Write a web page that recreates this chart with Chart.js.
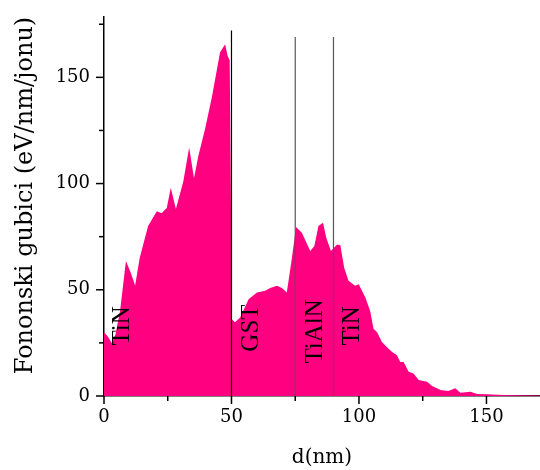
<!DOCTYPE html>
<html>
<head>
<meta charset="utf-8">
<script src="https://cdn.jsdelivr.net/npm/chart.js@4"></script>
<style>
  html, body { margin: 0; padding: 0; background: #fff; }
  #wrap { width: 540px; height: 470px; }
</style>
</head>
<body>
<div id="wrap"><canvas id="ChartCanvas"></canvas></div>
<script>
// depth (nm) and phonon losses (eV/nm/ion)
var depthNm = [0, 1.5, 3, 4.5, 6.3, 8.6, 10.5, 12.2, 14, 17.3, 20.7, 22.6, 24.6, 26.2, 28.2, 31.1,
    33.4, 35.3, 37, 39.7, 42.3, 45.5, 47.5, 48.5, 49.3, 50.2, 51.4, 53.4, 56.7, 60, 63.2, 65.2,
    67.8, 69.8, 71.7, 73.7, 75.3, 77.6, 80.9, 82.5, 84.1, 85.9, 87.2, 89, 91.4, 92.7, 94.2, 95.9,
    98.5, 99.9, 102.5, 104.4, 105.7, 107.1, 109, 111, 113, 114.9, 116.2, 117.5, 119.5, 121.4,
    123.4, 126.7, 128.7, 132, 135, 137.8, 139.8, 143.7, 146.3, 150, 156.8, 163, 171];
var phononLoss = [30, 28, 25, 29, 40, 63.5, 58, 52, 65, 80, 87, 86, 88.5, 98, 88, 101,
    117, 102.5, 113, 126, 140.6, 161.7, 165.6, 160, 158, 36, 34.7, 37, 45.6, 48.7, 49.5, 50.8,
    51.9, 50.8, 48.7, 65, 79.5, 76.8, 68.2, 70.6, 80, 81.5, 74.4, 68.2, 71.3, 71, 60.4, 54.2,
    51.9, 52.6, 46.4, 40, 31.6, 30, 25.4, 23, 20.7, 19.2, 16, 16, 11.4, 10.6,
    7.5, 6.7, 4.7, 2.8, 2.3, 3.6, 1.5, 2, 0.9, 0.8, 0.5, 0.3, 0.2];

// layer boundaries (nm) and the height each marker line reaches
var boundaryNm = [50, 75, 90];
var boundaryTop = [172, 169, 169];

// layer names and where they sit (nm, eV/nm/ion)
var layerNames = ["TiN", "GST", "TiAlN", "TiN"];
var layerX = [7.1, 57.7, 83.0, 97.4];
var layerY = [33, 32, 30.4, 33];

var xTicksMajor = [0, 50, 100, 150];
var xTicksMinor = [25, 75, 125];
var yTicksMajor = [0, 50, 100, 150];
var yTicksMinor = [25, 75, 125, 175];

var areaPoints = [];
for (var i = 0; i < depthNm.length; i++) {
    areaPoints.push({ x: depthNm[i], y: phononLoss[i] });
}

var datasets = [];
for (var b = 0; b < boundaryNm.length; b++) {
    datasets.push({
        type: 'line',
        data: [{ x: boundaryNm[b], y: 0 }, { x: boundaryNm[b], y: boundaryTop[b] }],
        borderColor: b == 0 ? '#000000' : '#555555',
        borderWidth: 1.2,
        pointRadius: 0,
        fill: false,
        order: 0
    });
}
datasets.push({
    type: 'line',
    data: areaPoints,
    borderWidth: 0,
    borderColor: 'rgb(255, 0, 128)',
    backgroundColor: 'rgb(255, 0, 128)',
    pointRadius: 0,
    fill: 'origin',
    tension: 0,
    order: 10
});

var axisFont = { family: 'DejaVu Serif', size: 18 };

// tick marks drawn by hand so minor ticks can be shorter
var ticksPlugin = {
    id: 'ticksPlugin',
    afterDraw: function(chart) {
        var ctx = chart.ctx;
        var xs = chart.scales.x, ys = chart.scales.y;
        var area = chart.chartArea;
        ctx.save();
        ctx.strokeStyle = '#000';
        ctx.lineWidth = 1.5;
        function xt(v, len) {
            var px = xs.getPixelForValue(v);
            ctx.beginPath(); ctx.moveTo(px, area.bottom); ctx.lineTo(px, area.bottom + len); ctx.stroke();
        }
        function yt(v, len) {
            var py = ys.getPixelForValue(v);
            ctx.beginPath(); ctx.moveTo(area.left, py); ctx.lineTo(area.left - len, py); ctx.stroke();
        }
        xTicksMajor.forEach(function(v) { xt(v, 8); });
        xTicksMinor.forEach(function(v) { xt(v, 5); });
        yTicksMajor.forEach(function(v) { yt(v, 8); });
        yTicksMinor.forEach(function(v) { yt(v, 5); });

        // layer names, rotated
        ctx.fillStyle = '#000';
        ctx.font = '25px "Liberation Serif"';
        ctx.textAlign = 'center';
        ctx.textBaseline = 'middle';
        for (var k = 0; k < layerNames.length; k++) {
            ctx.save();
            ctx.translate(xs.getPixelForValue(layerX[k]), ys.getPixelForValue(layerY[k]));
            ctx.rotate(-Math.PI / 2);
            ctx.fillText(layerNames[k], 0, 0);
            ctx.restore();
        }
        ctx.restore();
    }
};

var config = {
    type: 'line',
    data: { datasets: datasets },
    options: {
        responsive: true,
        maintainAspectRatio: false,
        animation: false,
        layout: { padding: { top: 14, right: 0, left: 0, bottom: 0 } },
        plugins: { legend: { display: false }, tooltip: { enabled: false } },
        scales: {
            x: {
                type: 'linear',
                min: 0,
                max: 171,
                afterFit: function(scale) { scale.height = 74; },
                afterBuildTicks: function(scale) {
                    scale.ticks = xTicksMajor.map(function(v) { return { value: v }; });
                },
                grid: { display: true, drawOnChartArea: false, tickLength: 8, tickColor: 'rgba(0,0,0,0)' },
                border: { display: true, color: '#000', width: 1.5 },
                ticks: { color: '#000', font: axisFont, padding: 3, maxRotation: 0 },
                title: { display: true, text: 'd(nm)', color: '#000', font: { family: 'DejaVu Serif', size: 20 }, padding: { top: 4, bottom: 0 } }
            },
            y: {
                type: 'linear',
                min: 0,
                max: 178.5,
                afterFit: function(scale) { scale.width = 104; },
                afterBuildTicks: function(scale) {
                    scale.ticks = yTicksMajor.map(function(v) { return { value: v }; });
                },
                grid: { display: true, drawOnChartArea: false, tickLength: 8, tickColor: 'rgba(0,0,0,0)' },
                border: { display: true, color: '#000', width: 1.5 },
                ticks: { color: '#000', font: axisFont, padding: 6 },
                title: { display: true, align: 'end', text: 'Fononski gubici (eV/nm/jonu)', color: '#000', font: { family: 'DejaVu Serif', size: 24 }, padding: { top: 11, bottom: 0 } }
            }
        }
    },
    plugins: [ticksPlugin]
};

var createdChart = new Chart(document.getElementById('ChartCanvas').getContext('2d'), config);
</script>
</body>
</html>
